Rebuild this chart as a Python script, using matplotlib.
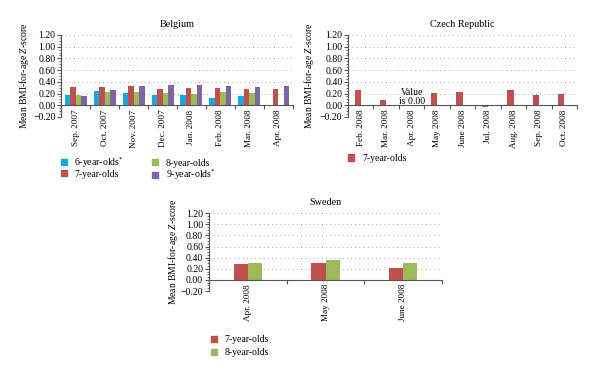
import matplotlib
matplotlib.use("Agg")
import matplotlib.pyplot as plt
import numpy as np
from matplotlib.ticker import MultipleLocator, FixedLocator
from matplotlib.patches import Patch

plt.rcParams['font.family'] = ['Liberation Serif', 'DejaVu Serif']
plt.rcParams['mathtext.fontset'] = 'custom'
plt.rcParams['mathtext.rm'] = 'Liberation Serif'
plt.rcParams['mathtext.it'] = 'Liberation Serif:italic'

BLUE = '#1AA7E0'
RED = '#C0504D'
GREEN = '#9BBB59'
PURPLE = '#8064A2'

# Belgium
be_months = ['Sep. 2007', 'Oct. 2007', 'Nov. 2007', 'Dec. 2007', 'Jan. 2008',
             'Feb. 2008', 'Mar. 2008', 'Apr. 2008']
be_6 = [0.18, 0.25, 0.21, 0.17, 0.18, 0.13, 0.16, np.nan]
be_7 = [0.31, 0.31, 0.33, 0.27, 0.29, 0.30, 0.27, 0.27]
be_8 = [0.18, 0.23, 0.23, 0.21, 0.20, 0.23, 0.21, np.nan]
be_9 = [0.15, 0.26, 0.32, 0.34, 0.35, 0.33, 0.31, 0.33]

# Czech Republic
cz_months = ['Feb. 2008', 'Mar. 2008', 'Apr. 2008', 'May 2008', 'June 2008',
             'Jul. 2008', 'Aug. 2008', 'Sep. 2008', 'Oct. 2008']
cz_7 = [0.26, 0.09, 0.00, 0.21, 0.23, -0.03, 0.26, 0.18, 0.19]

# Sweden
se_months = ['Apr. 2008', 'May 2008', 'June 2008']
se_7 = [0.28, 0.30, 0.21]
se_8 = [0.31, 0.36, 0.31]

yticks = [-0.20, 0.00, 0.20, 0.40, 0.60, 0.80, 1.00, 1.20]
ylabel = 'Mean BMI-for-age $\\mathit{Z}$-score'

fig = plt.figure(figsize=(6, 3.76), dpi=100)
FS_Y = 7.0
FS_X = 6.6
FS_L = 7.0
FS_T = 7.3


def style(ax, cats, title):
    n = len(cats)
    ax.set_xlim(0, n)
    ax.set_ylim(-0.2, 1.2)
    for s in ['top', 'right']:
        ax.spines[s].set_visible(False)
    ax.spines['bottom'].set_position(('data', 0))
    ax.spines['bottom'].set_color('#555555')
    ax.spines['left'].set_color('#555555')
    ax.spines['bottom'].set_linewidth(0.8)
    ax.spines['left'].set_linewidth(0.8)
    ax.set_yticks(yticks)
    ax.set_yticklabels(['\u22120.20' if v < 0 else f'{v:.2f}' for v in yticks])
    ax.yaxis.set_minor_locator(MultipleLocator(0.05))
    ax.tick_params(axis='y', which='major', length=3, labelsize=FS_Y, pad=1, color='#555555')
    ax.tick_params(axis='y', which='minor', length=1.5, color='#555555')
    ax.xaxis.set_major_locator(FixedLocator(np.arange(0, n + 1)))
    ax.set_xticklabels([''] * (n + 1))
    ax.set_xticks(np.arange(n) + 0.5, minor=True)
    ax.set_xticklabels(cats, minor=True, rotation=90, fontsize=FS_X, va='top')
    ax.tick_params(axis='x', which='major', length=3, direction='out', color='#555555')
    ax.tick_params(axis='x', which='minor', length=0, pad=3)
    for v in yticks:
        if v != 0:
            ax.axhline(v, color='#888888', lw=0.6, ls=(0, (1, 4)), zorder=0)
    ax.set_ylabel(ylabel, fontsize=FS_X + 0.3, labelpad=3)
    ax.set_title(title, fontsize=FS_T, pad=6)


leg_kw = dict(frameon=False, fontsize=FS_L, handlelength=0.6, handleheight=0.6,
              handletextpad=0.8, borderaxespad=0, loc='upper left')

# Belgium
ax1 = fig.add_axes([0.102, 0.689, 0.386, 0.218])
x = np.arange(len(be_months)) + 0.5
w = 0.19
for i, (vals, c) in enumerate([(be_6, BLUE), (be_7, RED), (be_8, GREEN), (be_9, PURPLE)]):
    ax1.bar(x + (i - 1.5) * w, vals, width=w, color=c, zorder=2)
style(ax1, be_months, 'Belgium')
ax1.yaxis.set_label_coords(-0.13, 0.5)
h = [Patch(color=BLUE), Patch(color=RED), Patch(color=GREEN), Patch(color=PURPLE)]
fig.legend(h, ['6-year-olds$^{*}$', '7-year-olds', '8-year-olds', '9-year-olds$^{*}$'],
           ncol=2, bbox_to_anchor=(0.095, 0.597), columnspacing=2.9,
           labelspacing=0.0, **leg_kw)

# Czech Republic
ax2 = fig.add_axes([0.58, 0.689, 0.382, 0.218])
x = np.arange(len(cz_months)) + 0.5
ax2.bar(x - 0.12, cz_7, width=0.24, color=RED, zorder=2)
style(ax2, cz_months, 'Czech Republic')
ax2.yaxis.set_label_coords(-0.14, 0.5)
ax2.text(2.5, 0.14, 'Value\nis 0.00', ha='center', va='center', fontsize=FS_L,
         linespacing=1.0)
fig.legend([Patch(color=RED)], ['7-year-olds'], bbox_to_anchor=(0.574, 0.601),
           **leg_kw)

# Sweden
ax3 = fig.add_axes([0.348, 0.226, 0.389, 0.207])
x = np.arange(len(se_months)) + 0.5
w = 0.18
ax3.bar(x - w / 2, se_7, width=w, color=RED, zorder=2)
ax3.bar(x + w / 2, se_8, width=w, color=GREEN, zorder=2)
style(ax3, se_months, 'Sweden')
ax3.yaxis.set_label_coords(-0.125, 0.5)
fig.legend([Patch(color=RED), Patch(color=GREEN)], ['7-year-olds', '8-year-olds'],
           bbox_to_anchor=(0.345, 0.119), labelspacing=0.4, **leg_kw)

fig.savefig('out.png', dpi=100)
